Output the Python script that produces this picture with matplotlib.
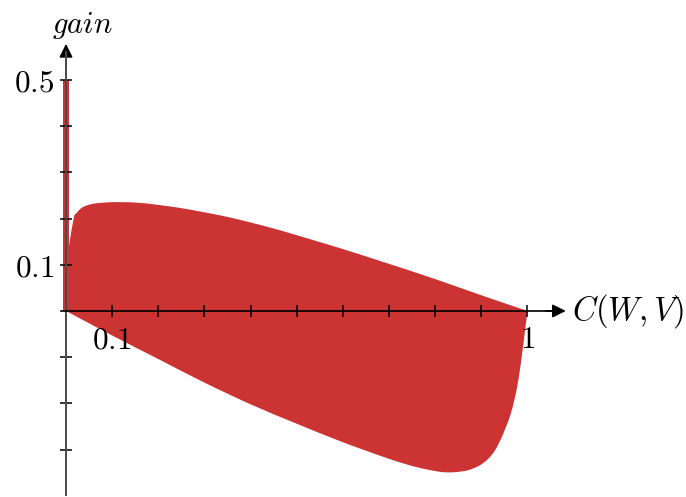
import numpy as np
import matplotlib
matplotlib.use("Agg")
import matplotlib.pyplot as plt
from matplotlib.path import Path
from matplotlib.patches import PathPatch

plt.rcParams["mathtext.fontset"] = "cm"
plt.rcParams["font.family"] = ["DejaVu Serif"]

# Region boundaries: gain versus capacity C(W,V)
upper_x = [0.0, 0.0015, 0.016, 0.023, 0.037, 0.059, 0.09, 0.12, 0.16, 0.20, 0.25,
           0.30, 0.35, 0.40, 0.45, 0.50, 0.55, 0.60, 0.70, 0.80, 0.90, 1.0]
upper_y = [0.0, 0.099, 0.197, 0.212, 0.225, 0.232, 0.235, 0.2355, 0.234, 0.2295,
           0.2225, 0.2135, 0.2035, 0.1915, 0.1785, 0.164, 0.149, 0.134, 0.102,
           0.069, 0.034, 0.0]
lower_x = [0.0, 0.1, 0.2, 0.3, 0.4, 0.5, 0.6, 0.7, 0.76, 0.81, 0.84, 0.87, 0.895,
           0.915, 0.93, 0.942, 0.953, 0.963, 0.971, 0.978, 0.984, 0.990, 0.995, 1.0]
lower_y = [0.0, -0.053, -0.104, -0.155, -0.202, -0.244, -0.284, -0.320, -0.338,
           -0.348, -0.349, -0.345, -0.335, -0.320, -0.301, -0.278, -0.252, -0.225,
           -0.195, -0.162, -0.125, -0.080, -0.040, 0.0]
spike_height = 0.5

x_ticks = [0.1, 0.2, 0.3, 0.4, 0.5, 0.6, 0.7, 0.8, 0.9, 1.0]
x_tick_labels = ["$0.1$", "", "", "", "", "", "", "", "", "$1$"]
y_ticks = [-0.3, -0.2, -0.1, 0.1, 0.2, 0.3, 0.4, 0.5]
y_tick_labels = ["", "", "", "$0.1$", "", "", "", "$0.5$"]

RED = "#cc3333"


def smooth_segments(xs, ys):
    """Cubic Bezier segments (Catmull-Rom) passing through the given points."""
    p = np.column_stack([xs, ys]).astype(float)
    ext = np.vstack([p[0], p, p[-1]])
    verts = []
    for i in range(len(p) - 1):
        p0, p1, p2, p3 = ext[i], ext[i + 1], ext[i + 2], ext[i + 3]
        c1 = p1 + (p2 - p0) / 6.0
        c2 = p2 - (p3 - p1) / 6.0
        verts.extend([c1, c2, p2])
    return p[0], verts


fig = plt.figure(figsize=(6.86, 4.97), dpi=100)
ax = fig.add_axes([0, 0, 1, 1])
ax.set_xlim(-0.143, 1.3435)
ax.set_ylim(-0.4026, 0.673)

# filled region: upper edge left to right, lower edge right to left
start, up_verts = smooth_segments(upper_x, upper_y)
_, low_verts = smooth_segments(lower_x[::-1], lower_y[::-1])
verts = [start] + up_verts + low_verts + [start]
codes = ([Path.MOVETO] + [Path.CURVE4] * len(up_verts)
         + [Path.CURVE4] * len(low_verts) + [Path.CLOSEPOLY])
ax.add_patch(PathPatch(Path(verts, codes), facecolor=RED, lw=0, zorder=1))

# thin spike along the vertical axis
ax.fill([-0.006, 0.006, 0.006, -0.006], [0, 0, spike_height, spike_height],
        color=RED, lw=0, zorder=1)

# axes through the origin
for s in ["top", "right"]:
    ax.spines[s].set_visible(False)
ax.spines["left"].set_position(("data", 0))
ax.spines["bottom"].set_position(("data", 0))
ax.spines["left"].set_bounds(-0.398, 0.56)
ax.spines["bottom"].set_bounds(-0.01, 1.06)
ax.spines["left"].set_color("#4a4a4a")
ax.spines["left"].set_linewidth(1.4)
ax.spines["bottom"].set_linewidth(1.2)
ax.spines["left"].set_zorder(3)
ax.spines["bottom"].set_zorder(3)

ax.set_xticks(x_ticks)
ax.set_xticklabels(x_tick_labels)
ax.set_yticks(y_ticks)
ax.set_yticklabels(y_tick_labels)
ax.tick_params(axis="both", direction="inout", length=9, width=1.1,
               color="black", labelsize=22.5, pad=4)
ax.tick_params(axis="x", pad=5)
for lab in ax.get_xticklabels() + ax.get_yticklabels():
    lab.set_zorder(4)

# arrow heads
ax.annotate("", xy=(1.083, 0), xytext=(1.04, 0),
            arrowprops=dict(arrowstyle="-|>", color="black", lw=1.2,
                            mutation_scale=20, shrinkA=0, shrinkB=0))
ax.annotate("", xy=(0, 0.578), xytext=(0, 0.53),
            arrowprops=dict(arrowstyle="-|>", color="black", lw=1.2,
                            mutation_scale=20, shrinkA=0, shrinkB=0))

ax.text(1.096, 0.0, r"$C(W,V)$", fontsize=23.5, ha="left", va="center")
ax.text(0.035, 0.618, r"$gain$", fontsize=22, ha="center", va="center")

fig.savefig("out.png", dpi=100)
